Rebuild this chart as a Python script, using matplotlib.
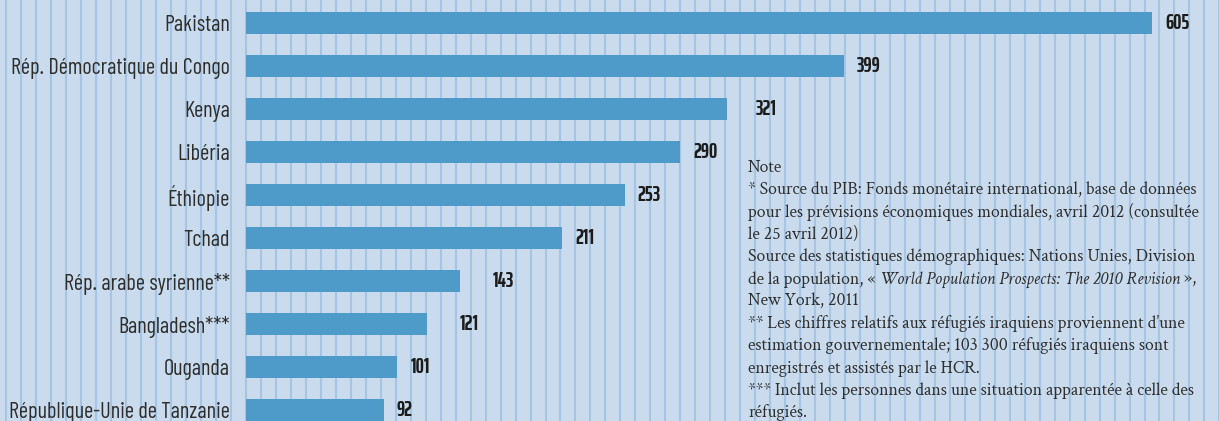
import matplotlib
matplotlib.use("Agg")
import matplotlib.pyplot as plt
import numpy as np

# data
countries = ["Pakistan", "Rép. Démocratique du Congo", "Kenya", "Libéria",
             "Éthiopie", "Tchad", "Rép. arabe syrienne**", "Bangladesh***",
             "Ouganda", "République-Unie de Tanzanie"]
values = [605, 399, 321, 290, 253, 211, 143, 121, 101, 92]

note_lines = [
    "Note",
    "* Source du PIB: Fonds monétaire international, base de données",
    "pour les prévisions économiques mondiales, avril 2012 (consultée",
    "le 25 avril 2012)",
    "Source des statistiques démographiques: Nations Unies, Division",
    None,  # line with italic title, drawn separately
    "New York, 2011",
    "** Les chiffres relatifs aux réfugiés iraquiens proviennent d\u2019une",
    "estimation gouvernementale; 103 300 réfugiés iraquiens sont",
    "enregistrés et assistés par le HCR.",
    "*** Inclut les personnes dans une situation apparentée à celle des",
    "réfugiés.",
]
italic_line = ["de la population, « ", "World Population Prospects: The 2010 Revision", " »,"]

# styles
bg = "#c9dbec"
grid_col = "#a6c5e4"
bar_col = "#4e9bca"
txt_col = "#2e2e2e"
label_font = ["Barlow Condensed", "DejaVu Sans"]
value_font = ["Saira ExtraCondensed", "DejaVu Sans"]
note_font = ["Crimson Text", "Liberation Serif"]
# pixel gap between bar end and value label (some are pushed further, as in the original)
label_gap = [13, 13, 29, 13, 13, 13, 32, 32, 13, 13]

W, H = 1219, 421
fig = plt.figure(figsize=(W / 100, H / 100), dpi=100, facecolor=bg)
ax = fig.add_axes([0, 0, 1, 1], facecolor=bg)

px_per_unit = 1.4975
x0 = 246
ax.set_xlim(-x0 / px_per_unit, (W - x0) / px_per_unit)
pitch = 43.0
c0 = 23.0
ax.set_ylim((H - c0) / pitch, -c0 / pitch)

for g in np.arange(-160, 660, 10):
    ax.axvline(g, color=grid_col, lw=1.5, zorder=1)

y = np.arange(len(countries))
ax.barh(y, values, height=0.52, color=bar_col, zorder=2)

for i, (c, v) in enumerate(zip(countries, values)):
    ax.annotate(c, (0, i), xytext=(-16 * 0.72, -2), textcoords="offset points",
                ha="right", va="center", fontsize=16, family=label_font,
                fontstretch="condensed", color=txt_col, zorder=3)
    ax.annotate(str(v), (v, i), xytext=(label_gap[i] * 0.72, 0), textcoords="offset points",
                ha="left", va="center", fontsize=15, family=value_font,
                fontstretch="condensed", fontweight="bold", color="#1c1c1c", zorder=3)

ax.axis("off")

# note block
nx = 748 / W
base0 = 172
step = 22.3
nfs = 12.75
for k, line in enumerate(note_lines):
    yy = 1 - (base0 + k * step) / H
    if line is None:
        fig.canvas.draw()
        r = fig.canvas.get_renderer()
        xpos = 748
        for j, part in enumerate(italic_line):
            t = fig.text(xpos / W, yy, part, fontsize=nfs, family=note_font,
                         style="italic" if j == 1 else "normal", va="baseline",
                         color=txt_col)
            xpos += t.get_window_extent(r).width
    else:
        fig.text(nx, yy, line, fontsize=nfs, family=note_font, va="baseline",
                 color=txt_col)

fig.savefig("out.png", dpi=100, facecolor=bg)
